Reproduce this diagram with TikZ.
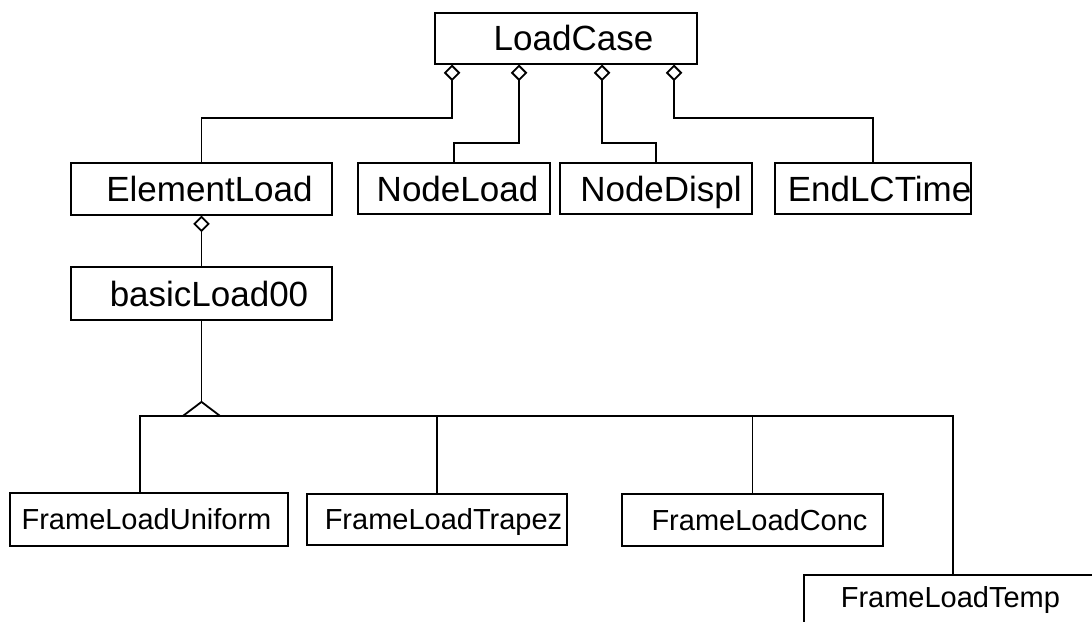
\documentclass[tikz,border=0pt]{standalone}
\usepackage{fontspec}
\setmainfont{Liberation Sans}
\usetikzlibrary{calc}
\tikzset{
  box/.style={draw, line width=1.8pt, inner sep=0pt, fill=white},
  big/.style={font=\fontsize{35pt}{42pt}\selectfont, text height=25pt, text depth=0pt, inner sep=0pt},
  small/.style={font=\fontsize{29pt}{35pt}\selectfont, text height=20.8pt, text depth=0pt, inner sep=0pt},
  conn/.style={line width=1.8pt},
}
% open aggregation diamond hanging below a point on a box edge
\newcommand\aggmark[1]{%
  \draw[conn, fill=white, line join=miter]
    (#1) -- ($(#1)+(7,7)$) -- ($(#1)+(0,14)$) -- ($(#1)+(-7,7)$) -- cycle;}
\begin{document}
\begin{tikzpicture}[x=1pt, y=-1pt]
  \clip (0,0) rectangle (1092,621);
  \fill[white] (0,0) rectangle (1092,621);

  % aggregate root
  \node[box, minimum width=262pt, minimum height=51.3pt,
        label={[big, xshift=7.5pt]center:LoadCase}] (lc) at (566,38.3) {};

  % second row
  \node[box, minimum width=261pt, minimum height=52pt,
        label={[big, xshift=8pt]center:ElementLoad}] (el) at (201.5,189) {};
  \node[box, minimum width=192pt, minimum height=51pt,
        label={[big, xshift=3.5pt]center:NodeLoad}] (nl) at (454,188.5) {};
  \node[box, minimum width=192pt, minimum height=51pt,
        label={[big, xshift=5pt]center:NodeDispl}] (nd) at (656,188.5) {};
  \node[box, minimum width=196pt, minimum height=51pt,
        label={[big, xshift=6.5pt]center:EndLCTime}] (ec) at (873,188.5) {};

  % base class
  \node[box, minimum width=261pt, minimum height=53pt,
        label={[big, xshift=7.5pt]center:basicLoad00}] (bl) at (201.5,293.5) {};

  % derived load types
  \node[box, minimum width=278pt, minimum height=53pt,
        label={[small, xshift=-2.5pt]center:FrameLoadUniform}] (uni) at (149,519.5) {};
  \node[box, minimum width=260pt, minimum height=51pt,
        label={[small, xshift=6.5pt]center:FrameLoadTrapez}] (trz) at (437,519.5) {};
  \node[box, minimum width=261pt, minimum height=52pt,
        label={[small, xshift=7pt]center:FrameLoadConc}] (conc) at (752.5,520) {};
  \node[box, minimum width=320pt, minimum height=52pt, anchor=north west,
        label={[small, xshift=-13.5pt, yshift=4pt]center:FrameLoadTemp}] (temp) at (803,574) {};

  % aggregation ends on LoadCase
  \coordinate (a1) at ($(lc.south west)+(18,1)$);
  \coordinate (a2) at ($(lc.south west)+(85,1)$);
  \coordinate (a3) at ($(lc.south west)+(168,1)$);
  \coordinate (a4) at ($(lc.south west)+(240,1)$);
  \coordinate (a5) at ($(el.south)+(0,1)$);

  \draw[conn] (el.north) |- ($(a1)+(0,52)$) -- (a1);
  \draw[conn] (nl.north) |- ($(a2)+(0,77)$) -- (a2);
  \draw[conn] (nd.north) |- ($(a3)+(0,77)$) -- (a3);
  \draw[conn] (ec.north) |- ($(a4)+(0,52)$) -- (a4);
  \draw[conn] (bl.north) -- (a5);
  \aggmark{a1}\aggmark{a2}\aggmark{a3}\aggmark{a4}\aggmark{a5}

  % generalization tree
  \coordinate (hub) at ($(bl.south)+(0,95)$);
  \coordinate (apex) at ($(hub)+(0,-14)$);
  \coordinate (uniTop) at ($(uni.north west)+(131,0)$);
  \coordinate (tempTop) at ($(temp.north west)+(150,0)$);

  \draw[conn] (uniTop) |- (hub);
  \draw[conn] (trz.north) |- (hub);
  \draw[conn] (conc.north) |- (hub);
  \draw[conn] (tempTop) |- (hub);
  \draw[conn] (bl.south) -- (apex);
  \draw[conn, fill=white] ($(hub)+(-18.5,0)$) -- (apex) -- ($(hub)+(18.5,0)$) -- cycle;
\end{tikzpicture}
\end{document}
